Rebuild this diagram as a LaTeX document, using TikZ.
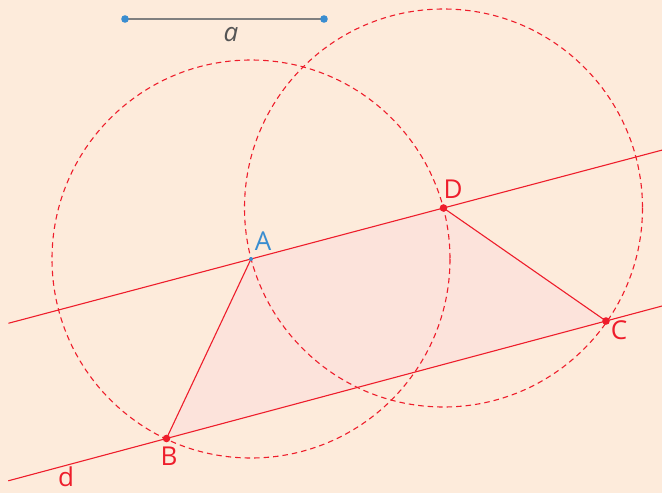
\documentclass[tikz,border=0pt]{standalone}
\usepackage{fontspec}
\setmainfont{Open Sans}
\usetikzlibrary{calc}
\definecolor{bg}{HTML}{FDEBDB}
\definecolor{quadfill}{HTML}{FCE3DB}
\definecolor{myred}{HTML}{EE1D2B}
\definecolor{myblue}{HTML}{3A8DD0}
\definecolor{mygray}{HTML}{808080}
\definecolor{labgray}{HTML}{555555}
\tikzset{
  circ/.style={draw=myred, line width=1.1pt, dash pattern=on 5.5pt off 4pt},
  redline/.style={draw=myred, line width=1.1pt},
  lab/.style={font=\fontsize{26}{30}\selectfont, inner sep=0pt},
}
\begin{document}
\begin{tikzpicture}[x=1pt,y=-1pt]
\fill[bg] (0,0) rectangle (662,493);
\useasboundingbox (0,0) rectangle (662,493);
% points
\coordinate (A) at (251,259);
\coordinate (D) at (443.5,208);
\coordinate (B) at (166.5,438.5);
\coordinate (C) at (606,321);
\coordinate (P) at (125,19);
\coordinate (Q) at (324,19);
\coordinate (L1) at ($(A)!-1.26!(D)$);
\coordinate (L2) at ($(A)!2.15!(D)$);
\coordinate (M1) at ($(B)!-0.36!(C)$);
\coordinate (M2) at ($(B)!1.15!(C)$);
% quadrilateral fill
\fill[quadfill] (A) -- (D) -- (C) -- (B) -- cycle;
% circles
\draw[circ] (A) circle[radius=199];
\draw[circ] (D) circle[radius=199];
% lines
\draw[redline] (L1) -- (L2);
\draw[redline] (M1) -- (M2);
\draw[redline] (A) -- (B);
\draw[redline] (D) -- (C);
% segment a
\draw[mygray, line width=1.5pt] (P) -- (Q);
\fill[myblue] (P) circle[radius=3.8];
\fill[myblue] (Q) circle[radius=3.8];
\node[lab, text=labgray, font=\fontsize{26}{30}\selectfont\itshape] (la) at (231,35) {a};
% points
\fill[myblue] (A) circle[radius=2];
\fill[myred] (D) circle[radius=3.8];
\fill[myred] (C) circle[radius=3.8];
\fill[myred] (B) circle[radius=3.8];
% labels
\node[lab, text=myblue] (lA) at (263,241) {A};
\node[lab, text=myred] (lD) at (453,189) {D};
\node[lab, text=myred] (lC) at (619,330) {C};
\node[lab, text=myred] (lB) at (169,456) {B};
\node[lab, text=myred] (ld) at (66,477) {d};
\end{tikzpicture}
\end{document}
